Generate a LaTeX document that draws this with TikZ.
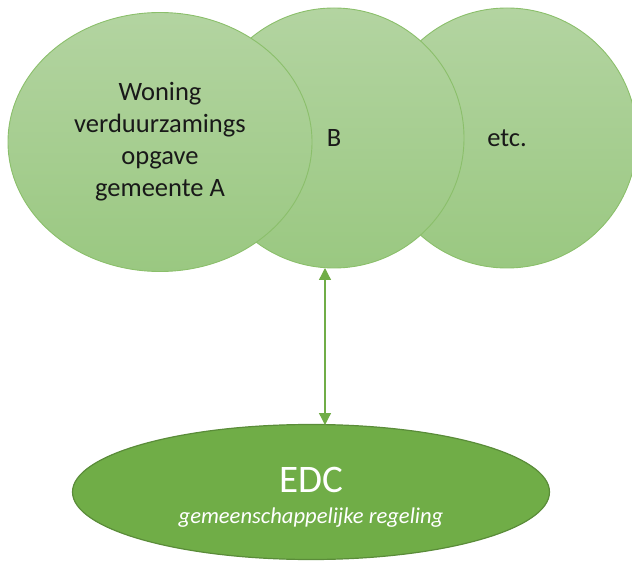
\documentclass[tikz,border=0pt]{standalone}
\usepackage{fontspec}
\setmainfont{Carlito}
\usetikzlibrary{shapes.geometric,arrows.meta}
\definecolor{lgtop}{HTML}{B3D4A1}
\definecolor{lgbot}{HTML}{9AC881}
\definecolor{lgedge}{HTML}{8BBF6B}
\definecolor{accent}{HTML}{70AD47}
\definecolor{accentdark}{HTML}{5A8C39}
\tikzset{
  bubble/.style={ellipse, draw=lgedge, line width=0.9pt, top color=lgtop, bottom color=lgbot, inner sep=0pt},
  bubbletext/.style={align=center, font=\fontsize{26.5}{32}\selectfont, text=black!90},
  core/.style={ellipse, draw=accentdark, line width=1.2pt, fill=accent, inner sep=0pt},
  link/.style={draw=accent, line width=1.3pt, {Triangle[length=12pt,width=12pt]}-{Triangle[length=12pt,width=12pt]}}
}
\begin{document}
\begin{tikzpicture}[x=1pt,y=-1pt]
\useasboundingbox (0,0) rectangle (632,561);
% municipalities, drawn back to front
\begin{scope}
\clip (0,0) rectangle (632,561);
\node[bubble, minimum width=260pt, minimum height=260pt] (etc) at (507,138) {};
\end{scope}
\node[bubble, minimum width=260pt, minimum height=260pt] (b) at (334,138) {};
\node[bubble, minimum width=304pt, minimum height=259pt] (a) at (160,142) {};
\node[bubbletext] at (a.center) {Woning\\verduurzamings\\opgave\\gemeente A};
\node[bubbletext] at (b.center) {B};
\node[bubbletext] at (etc.center) {etc.};
% joint arrangement
\node[core, minimum width=477pt, minimum height=135pt] (edc) at (311,492) {};
\node[text=white, font=\fontsize{39}{44}\selectfont] (edct) at (311,480) {EDC};
\node[text=white, font=\fontsize{22.6}{26}\selectfont\itshape] (edcs) at (311,518) {gemeenschappelijke regeling};
% link between the municipalities and the EDC
\coordinate (top) at (325,268);
\coordinate (bot) at (325,425);
\draw[link] (top) -- (bot);
\end{tikzpicture}
\end{document}
